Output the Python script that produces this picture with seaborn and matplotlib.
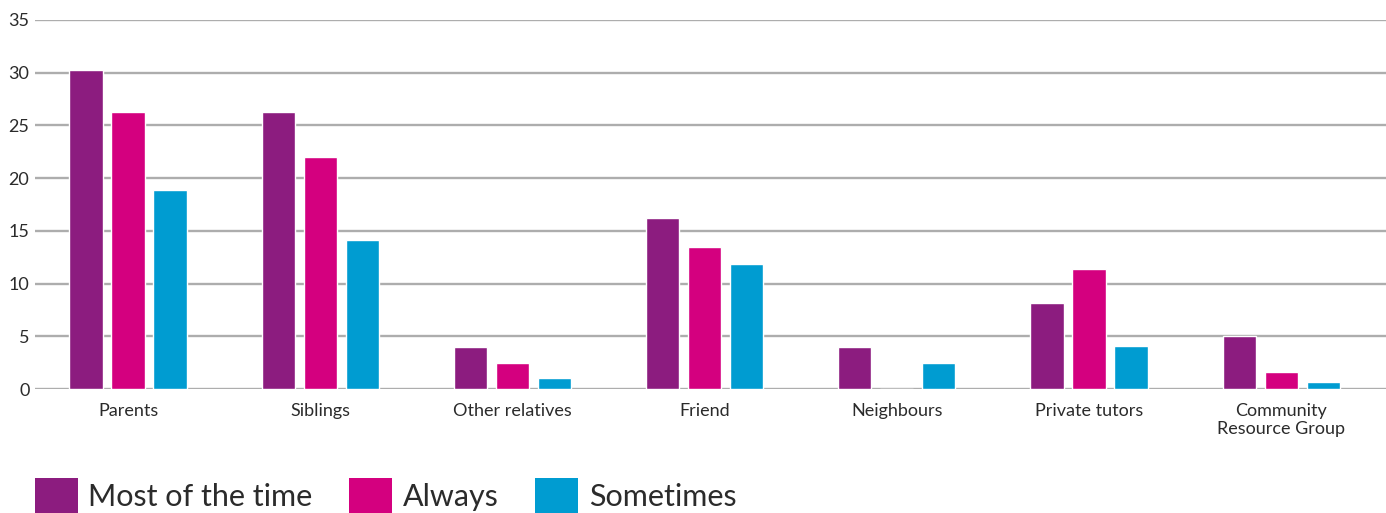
import matplotlib
matplotlib.use("Agg")
import matplotlib.pyplot as plt
from matplotlib.patches import Patch
import pandas as pd
import seaborn as sns

# Who helps with homework, by frequency
categories = ["Parents", "Siblings", "Other relatives", "Friend",
              "Neighbours", "Private tutors", "Community\nResource Group"]
most_of_the_time = [30.3, 26.3, 4.0, 16.2, 4.0, 8.2, 5.0]
always = [26.3, 22.0, 2.5, 13.5, 0.0, 11.4, 1.6]
sometimes = [18.9, 14.1, 1.0, 11.9, 2.5, 4.1, 0.7]
series_names = ["Most of the time", "Always", "Sometimes"]
series_colors = ["#8c1c7f", "#d4007f", "#009cd1"]
y_ticks = [0, 5, 10, 15, 20, 25, 30, 35]

rows = []
for name, vals in zip(series_names, [most_of_the_time, always, sometimes]):
    for cat, v in zip(categories, vals):
        rows.append({"category": cat, "freq": name, "value": v})
df = pd.DataFrame(rows)

sns.set_style("white")
plt.rcParams["font.family"] = ["Lato", "DejaVu Sans"]

fig = plt.figure(figsize=(13.86, 5.13), dpi=100)
ax = fig.add_axes([35 / 1386, 1 - 389 / 513, 1 - 35 / 1386, (389 - 20) / 513])

sns.barplot(data=df, x="category", y="value", hue="freq", order=categories,
            hue_order=series_names, palette=series_colors, width=0.656,
            gap=0.21, saturation=1, legend=False, ax=ax, zorder=3)

ax.set_ylim(0, 35)
ax.set_xlim(-0.484, 6.545)
ax.set_yticks(y_ticks)
ax.set_yticklabels([str(t) for t in y_ticks])
ax.yaxis.grid(True, color="#adadad", linewidth=1.7, zorder=0)
ax.set_axisbelow(True)
for s in ax.spines.values():
    s.set_visible(False)
ax.set_xlabel("")
ax.set_ylabel("")
ax.tick_params(axis="both", length=0, labelsize=13, colors="#2b2b2b")
ax.tick_params(axis="y", pad=4)
ax.tick_params(axis="x", pad=10)

handles = [Patch(facecolor=c, edgecolor="none") for c in series_colors]
fig.legend(handles, series_names, loc="lower left",
           bbox_to_anchor=(35 / 1386, 0.0), ncol=3, frameon=False,
           fontsize=22, handlelength=1.4, handleheight=1.4,
           handletextpad=0.35, columnspacing=1.2, borderpad=0,
           borderaxespad=0, labelcolor="#2b2b2b")

fig.savefig("out.png", dpi=100)
